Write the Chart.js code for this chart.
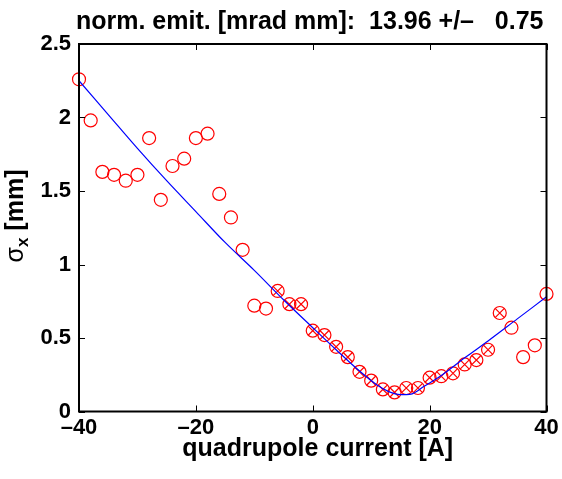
<!DOCTYPE html>
<html>
<head>
<meta charset="utf-8">
<script src="https://cdn.jsdelivr.net/npm/chart.js@4"></script>
<style>
  html, body { margin: 0; padding: 0; background: #fff; }
  .canvas-container { width: 562px; height: 479px; }
</style>
</head>
<body>
<div class="canvas-container"><canvas id="emitChart" width="562" height="479"></canvas></div>
<script>
const FONT = '"Liberation Sans", Arial, Helvetica, sans-serif';

// measured beam size vs quadrupole current
const current = [-40, -38, -36, -34, -32, -30, -28, -26, -24, -22, -20, -18, -16, -14, -12, -10, -8, -6, -4, -2,
  0, 2, 4, 6, 8, 10, 12, 14, 16, 18, 20, 22, 24, 26, 28, 30, 32, 34, 36, 38, 40];
const sigmaX = [2.26, 1.98, 1.63, 1.61, 1.57, 1.61, 1.86, 1.44, 1.67, 1.72, 1.86, 1.89, 1.48, 1.32, 1.10, 0.72, 0.70, 0.82, 0.73, 0.73,
  0.55, 0.52, 0.44, 0.37, 0.27, 0.21, 0.15, 0.13, 0.16, 0.16, 0.23, 0.24, 0.26, 0.32, 0.35, 0.42, 0.67, 0.57, 0.37, 0.45, 0.80];
// 1 = point used in the fit (drawn with a cross)
const usedInFit = [0, 0, 0, 0, 0, 0, 0, 0, 0, 0, 0, 0, 0, 0, 0, 0, 0, 1, 1, 1,
  1, 1, 1, 1, 1, 1, 1, 1, 1, 1, 1, 1, 1, 1, 1, 1, 1, 0, 0, 0, 0];

// fitted curve
const fitCurrent = [-40, -35, -30, -25, -20, -15, -10, -5, 0, 4, 8, 11, 13, 15, 16, 17, 19, 22, 26, 30, 35, 40];
const fitSigma = [2.25, 2.02, 1.79, 1.57, 1.36, 1.15, 0.96, 0.76, 0.57, 0.42, 0.275, 0.18, 0.135, 0.115, 0.115, 0.12, 0.17, 0.245, 0.365, 0.48, 0.63, 0.78];

const xTicks = [-40, -20, 0, 20, 40];
const yTicks = [0, 0.5, 1, 1.5, 2, 2.5];
const titleText = 'norm. emit. [mrad mm]:  13.96 +/\u2013   0.75';
const xLabel = 'quadrupole current [A]';

const measured = current.map((c, i) => ({x: c, y: sigmaX[i]}));
const crossed = current.map((c, i) => ({x: c, y: usedInFit[i] ? sigmaX[i] : null}));
const fitLine = fitCurrent.map((c, i) => ({x: c, y: fitSigma[i]}));

// matlab style frame, inward ticks, titles
const matlabFrame = {
  id: 'matlabFrame',
  afterDraw(chart) {
    const ctx = chart.ctx;
    const a = chart.chartArea;
    const xs = chart.scales.x, ys = chart.scales.y;
    ctx.save();
    ctx.strokeStyle = '#000';
    ctx.lineWidth = 1;
    xTicks.forEach(v => {
      const px = Math.round(xs.getPixelForValue(v)) + 0.5;
      ctx.beginPath();
      ctx.moveTo(px, a.bottom); ctx.lineTo(px, a.bottom - 6);
      ctx.moveTo(px, a.top); ctx.lineTo(px, a.top + 6);
      ctx.stroke();
    });
    yTicks.forEach(v => {
      const py = Math.round(ys.getPixelForValue(v)) + 0.5;
      ctx.beginPath();
      ctx.moveTo(a.left, py); ctx.lineTo(a.left + 6, py);
      ctx.moveTo(a.right, py); ctx.lineTo(a.right - 6, py);
      ctx.stroke();
    });
    ctx.lineWidth = 2;
    ctx.strokeRect(a.left, a.top, a.right - a.left, a.bottom - a.top);

    // title
    ctx.fillStyle = '#000';
    ctx.font = 'bold 25px ' + FONT;
    ctx.textAlign = 'center';
    ctx.textBaseline = 'alphabetic';
    ctx.fillText(titleText, (a.left + a.right) / 2 - 3, 29);

    // x label
    ctx.fillText(xLabel, (a.left + a.right) / 2 + 5, 456);

    // y label: sigma_x [mm]
    ctx.translate(23, 216);
    ctx.rotate(-Math.PI / 2);
    ctx.textAlign = 'left';
    const fBig = '25px ' + FONT, fSub = 'bold 17px ' + FONT, fRest = 'bold 25px ' + FONT;
    ctx.font = fBig; const w1 = ctx.measureText('\u03c3').width;
    ctx.font = fSub; const w2 = ctx.measureText('x').width;
    ctx.font = fRest; const w3 = ctx.measureText(' [mm]').width;
    let x0 = -(w1 + w2 + w3) / 2;
    ctx.font = fBig; ctx.fillText('\u03c3', x0, 0);
    ctx.font = fSub; ctx.fillText('x', x0 + w1, 5);
    ctx.font = fRest; ctx.fillText(' [mm]', x0 + w1 + w2, 0);
    ctx.restore();
  }
};

const config = {
  type: 'scatter',
  data: {
    datasets: [{
      label: 'fit',
      type: 'line',
      data: fitLine,
      borderColor: '#0000ff',
      borderWidth: 1.2,
      pointRadius: 0,
      cubicInterpolationMode: 'monotone',
      fill: false
    }, {
      label: 'measured',
      data: measured,
      pointStyle: 'circle',
      pointRadius: 6.5,
      borderColor: '#ff0000',
      backgroundColor: 'rgba(0,0,0,0)',
      borderWidth: 1.2,
      clip: false
    }, {
      label: 'used',
      data: crossed,
      pointStyle: 'crossRot',
      pointRadius: 6.5,
      borderColor: '#ff0000',
      borderWidth: 1.2,
      clip: false
    }]
  },
  options: {
    animation: false,
    responsive: false,
    layout: { padding: { top: 44, right: 15.5, left: 0, bottom: 0 } },
    plugins: {
      legend: { display: false },
      tooltip: { enabled: false }
    },
    scales: {
      x: {
        type: 'linear',
        min: -40,
        max: 40,
        afterBuildTicks: (s) => { s.ticks = xTicks.map(v => ({value: v})); },
        afterFit: (s) => { s.height = 67.5; },
        grid: { display: false, drawTicks: false },
        border: { display: false },
        ticks: {
          padding: 3,
          color: '#000',
          font: { family: FONT, size: 22, weight: 'bold' },
          callback: (v) => String(v).replace('-', '\u2013')
        }
      },
      y: {
        min: 0,
        max: 2.5,
        afterBuildTicks: (s) => { s.ticks = yTicks.map(v => ({value: v})); },
        afterFit: (s) => { s.width = 79; },
        grid: { display: false, drawTicks: false },
        border: { display: false },
        ticks: {
          padding: 8,
          color: '#000',
          font: { family: FONT, size: 22, weight: 'bold' },
          callback: (v) => String(v)
        }
      }
    }
  },
  plugins: [matlabFrame]
};

const emitChart = new Chart(document.getElementById('emitChart'), config);
</script>
</body>
</html>
